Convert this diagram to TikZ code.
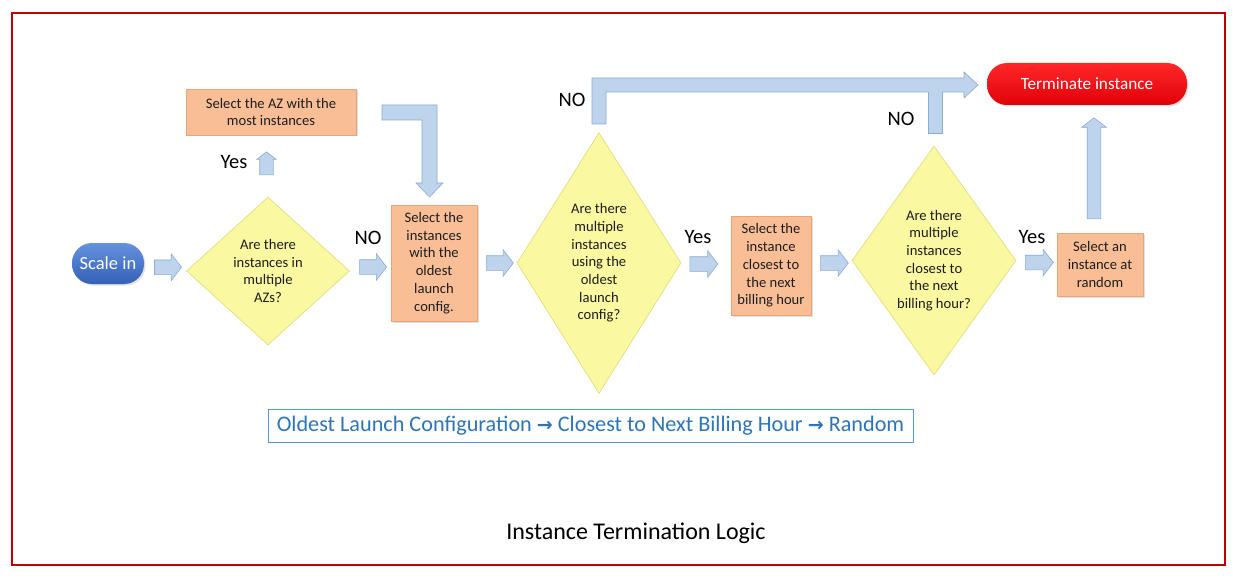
\documentclass[tikz,border=0pt]{standalone}
\usepackage{fontspec}
\setmainfont{Carlito}
\newfontfamily\symfont{DejaVu Sans Bold}
\usetikzlibrary{shapes.geometric,shapes.arrows,shadows,calc}
\definecolor{frame}{RGB}{192,0,0}
\definecolor{arrfill}{RGB}{190,212,236}
\definecolor{arredge}{RGB}{140,172,210}
\definecolor{boxfill}{RGB}{249,190,150}
\definecolor{boxedge}{RGB}{232,165,120}
\definecolor{dfill}{RGB}{250,248,160}
\definecolor{dedge}{RGB}{222,220,120}
\definecolor{blueA}{RGB}{100,146,222}
\definecolor{blueB}{RGB}{52,96,182}
\definecolor{redA}{RGB}{255,40,40}
\definecolor{redB}{RGB}{225,0,10}
\definecolor{ordertext}{RGB}{46,117,182}
\definecolor{orderedge}{RGB}{90,150,210}
\definecolor{txt}{RGB}{30,30,30}
\tikzset{
  boxnode/.style={rectangle, fill=boxfill, draw=boxedge, line width=0.6pt, text=txt,
    align=center, inner sep=0pt, font=\fontsize{14.6}{17.7}\selectfont,
    drop shadow={opacity=0.25, shadow xshift=1.5pt, shadow yshift=-1.5pt}},
  dianode/.style={diamond, fill=dfill, draw=dedge, line width=0.6pt, text=txt,
    align=center, inner sep=0pt, font=\fontsize{14.6}{17.7}\selectfont},
  pill/.style={rectangle, rounded corners=20pt, text=white, inner sep=0pt,
    drop shadow={opacity=0.25, shadow xshift=1.5pt, shadow yshift=-1.5pt}},
  blkarrow/.style={single arrow, fill=arrfill, draw=arredge, line width=0.6pt,
    inner sep=7pt, single arrow head extend=6pt, minimum width=26pt,
    single arrow tip angle=105},
  blkpoly/.style={fill=arrfill, draw=arredge, line width=0.6pt, line join=miter},
  lbl/.style={text=black, inner sep=0pt, font=\fontsize{20.5}{24}\selectfont},
}
\begin{document}
\begin{tikzpicture}[x=1pt,y=-1pt]
\useasboundingbox (0,0) rectangle (1233,580);
\fill[white] (0,0) rectangle (1233,580);
\draw[frame, line width=1.2pt] (12,13) rectangle (1225,565);

% nodes
\node[pill, top color=blueA, bottom color=blueB, minimum width=72pt, minimum height=41pt, font=\fontsize{18.5}{20}\selectfont] (scale) at (108,263.5) {Scale in};
\node[dianode, minimum width=163pt, minimum height=148pt, shape aspect=1.1] (d1) at (268,271) {Are there\\instances in\\multiple\\AZs?};
\node[boxnode, minimum width=170pt, minimum height=46pt] (az) at (271,112) {Select the AZ with the\\most instances};
\node[boxnode, minimum width=86pt, minimum height=116pt] (b2) at (434,263) {Select the\\instances\\with the\\oldest\\launch\\config.};
\node[dianode, minimum width=164pt, minimum height=261pt, shape aspect=0.63] (d2) at (599,263) {Are there\\multiple\\instances\\using the\\oldest\\launch\\config?};
\node[boxnode, minimum width=80pt, minimum height=99pt] (b3) at (771,265.5) {Select the\\instance\\closest to\\the next\\billing hour};
\node[dianode, minimum width=164pt, minimum height=229pt, shape aspect=0.72] (d3) at (934,260.5) {Are there\\multiple\\instances\\closest to\\the next\\billing hour?};
\node[boxnode, minimum width=86pt, minimum height=63pt] (b4) at (1100,264.5) {Select an\\instance at\\random};
\node[pill, top color=redA, bottom color=redB, minimum width=200pt, minimum height=42pt, font=\fontsize{17.2}{20}\selectfont] (term) at (1087,84) {Terminate instance};

% short block arrows
\node[blkarrow, minimum height=27pt] (a1) at ($(scale.east)!0.5!(d1.west)$) {};
\node[blkarrow, minimum height=27pt] (a2) at ($(d1.east)!0.5!(b2.west)$) {};
\node[blkarrow, minimum height=27pt] (a3) at ($(b2.east)!0.5!(d2.west)$) {};
\node[blkarrow, minimum height=28pt] (a4) at ($(d2.east)!0.4!(b3.west)$) {};
\node[blkarrow, minimum height=28pt] (a5) at ($(b3.east)!0.5!(d3.west)$) {};
\node[blkarrow, minimum height=28pt] (a6) at ($(d3.east)!0.5!(b4.west)$) {};
\node[blkarrow, shape border rotate=90, inner sep=6.5pt, single arrow head extend=3pt, minimum width=19pt, minimum height=23pt] (ayes) at ($(d1.north)!0.5!(az.south)+(-3,0)$) {};
\node[blkarrow, shape border rotate=90, inner sep=6.5pt, single arrow head extend=5.5pt, minimum width=24pt, minimum height=101pt] (aup) at ($(b4.north)!0.5!(term.south)+(0.5,2)$) {};

% bent arrows
\draw[blkpoly] (382,105) -- (437,105) -- (437,183) -- (443,183) -- (429.5,197) -- (416,183) -- (422,183) -- (422,120) -- (382,120) -- cycle;
\draw[blkpoly] (592,124) -- (592,78) -- (964,78) -- (964,72) -- (978,85) -- (964,98) -- (964,92) -- (606,92) -- (606,124) -- cycle;
\fill[arrfill] (928,91) rectangle (942,133);
\draw[arredge, line width=0.6pt] (928,92) -- (928,133) -- (942,133) -- (942,92);

% labels
\node[lbl] (lyes1) at (234,162) {Yes};
\node[lbl] (lno1) at (368,238) {NO};
\node[lbl] (lno2) at (572,100) {NO};
\node[lbl] (lyes2) at (698,237) {Yes};
\node[lbl] (lno3) at (901,119) {NO};
\node[lbl] (lyes3) at (1032,237) {Yes};

% order box
\node[draw=orderedge, line width=0.8pt, text=ordertext, minimum width=645pt, minimum height=33pt, inner sep=0pt,
  font=\fontsize{22.2}{24}\selectfont] (order) at (590.5,425.5)
  {Oldest Launch Configuration {\symfont\fontsize{19}{24}\selectfont →} Closest to Next Billing Hour {\symfont\fontsize{19}{24}\selectfont →} Random};

\node[text=black, inner sep=0pt, font=\fontsize{24}{26}\selectfont] (footer) at (636,533) {Instance Termination Logic};
\end{tikzpicture}
\end{document}
